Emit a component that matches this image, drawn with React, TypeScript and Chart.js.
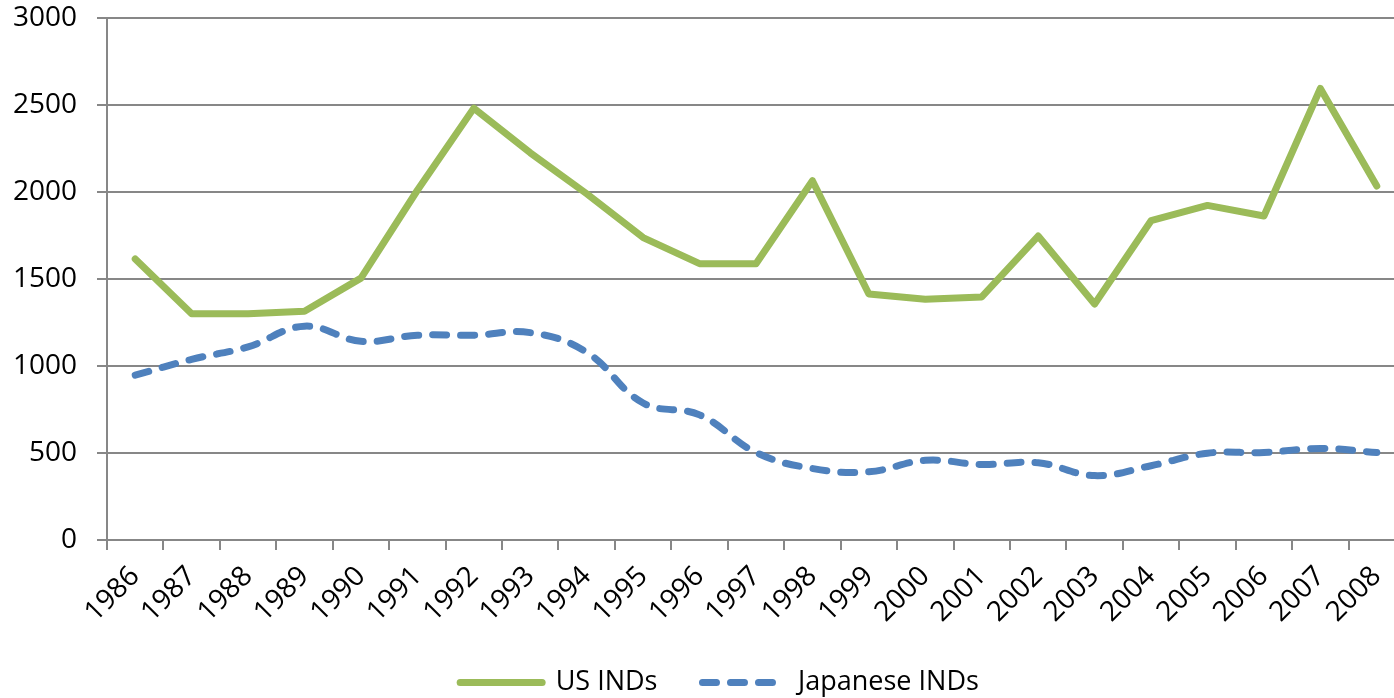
import React, { useEffect, useRef } from "react";
import { Chart, registerables } from "chart.js";

Chart.register(...registerables);

// Years on the category axis
const years = [
  "1986", "1987", "1988", "1989", "1990", "1991", "1992", "1993",
  "1994", "1995", "1996", "1997", "1998", "1999", "2000", "2001",
  "2002", "2003", "2004", "2005", "2006", "2007", "2008",
];

// Number of INDs filed per year
const usInds = [
  1615, 1300, 1300, 1315, 1505, 2010, 2482, 2225, 1990, 1738, 1588, 1588,
  2065, 1414, 1383, 1397, 1747, 1356, 1835, 1923, 1862, 2595, 2034,
];
const japaneseInds = [
  947, 1038, 1110, 1229, 1142, 1177, 1177, 1192, 1079, 787, 719, 503,
  411, 392, 458, 434, 444, 370, 427, 499, 503, 526, 503,
];

// Value axis
const yMin = 0;
const yMax = 3000;
const yStep = 500;

const GRID = "#878787";
const TICK_FONT = { family: "'Open Sans', sans-serif", size: 28 };
const LEGEND_FONT = { family: "'Open Sans', sans-serif", size: 27 };

export default function App() {
  const canvasRef = useRef<HTMLCanvasElement>(null);

  useEffect(() => {
    document.body.style.margin = "0";
    const chart = new Chart(canvasRef.current!, {
      type: "line",
      data: {
        labels: years,
        datasets: [
          {
            label: "US INDs",
            data: usInds,
            borderColor: "#9BBB59",
            backgroundColor: "#9BBB59",
            borderWidth: 7,
            borderCapStyle: "round",
            borderJoinStyle: "round",
            pointRadius: 0,
            tension: 0,
            fill: false,
          },
          {
            label: "Japanese INDs",
            data: japaneseInds,
            borderColor: "#4F81BD",
            backgroundColor: "#4F81BD",
            borderWidth: 7,
            borderDash: [14, 14],
            borderCapStyle: "round",
            borderJoinStyle: "round",
            pointRadius: 0,
            tension: 0.4,
            fill: false,
          },
        ],
      },
      options: {
        animation: false,
        responsive: true,
        maintainAspectRatio: false,
        layout: { padding: { top: 18, left: 0, right: 0, bottom: 0 } },
        plugins: {
          tooltip: { enabled: false },
          legend: {
            position: "bottom",
            labels: {
              usePointStyle: true,
              pointStyle: "line",
              pointStyleWidth: 82,
              boxWidth: 82,
              padding: 45,
              color: "#000",
              font: LEGEND_FONT,
              generateLabels: (c: any) =>
                c.data.datasets.map((ds: any, i: number) => ({
                  text: ds.label,
                  datasetIndex: i,
                  fillStyle: ds.borderColor,
                  strokeStyle: ds.borderColor,
                  fontColor: "#000",
                  lineWidth: ds.borderWidth,
                  lineDash: ds.borderDash || [],
                  lineCap: "round",
                  pointStyle: "line",
                  hidden: false,
                })),
            },
          },
        },
        scales: {
          x: {
            offset: true,
            grid: {
              offset: true,
              drawOnChartArea: false,
              drawTicks: true,
              tickLength: 10,
              color: GRID,
              lineWidth: 2,
            },
            border: { display: true, color: GRID, width: 2 },
            ticks: {
              autoSkip: false,
              minRotation: 45,
              maxRotation: 45,
              padding: 10,
              color: "#000",
              font: TICK_FONT,
            },
            afterFit: (axis: any) => {
              const legendH = axis.chart.legend ? axis.chart.legend.height : 0;
              axis.height = axis.chart.height - 540 - legendH;
            },
          },
          y: {
            min: yMin,
            max: yMax,
            ticks: {
              stepSize: yStep,
              padding: 20,
              color: "#000",
              font: TICK_FONT,
              callback: (v: any) => String(v),
            },
            grid: {
              color: GRID,
              lineWidth: 2,
              tickLength: 10,
            },
            border: { display: true, color: GRID, width: 2 },
            afterFit: (axis: any) => {
              axis.width = 107;
              axis.paddingTop = 0;
              axis.paddingBottom = 0;
            },
          },
          // empty strip on the right, past the visible edge of the plot
          edge: {
            type: "linear",
            position: "right",
            display: true,
            grid: { display: false },
            border: { display: false },
            ticks: { display: false },
            afterFit: (axis: any) => {
              axis.width = 34;
              axis.paddingTop = 0;
              axis.paddingBottom = 0;
            },
          },
        },
      },
    });
    return () => chart.destroy();
  }, []);

  return (
    <div
      style={{
        position: "fixed",
        left: 0,
        top: 0,
        width: 1394,
        height: 698,
        overflow: "hidden",
        background: "#fff",
      }}
    >
      <div style={{ position: "relative", width: 1439, height: 706 }}>
        <canvas ref={canvasRef} />
      </div>
    </div>
  );
}
